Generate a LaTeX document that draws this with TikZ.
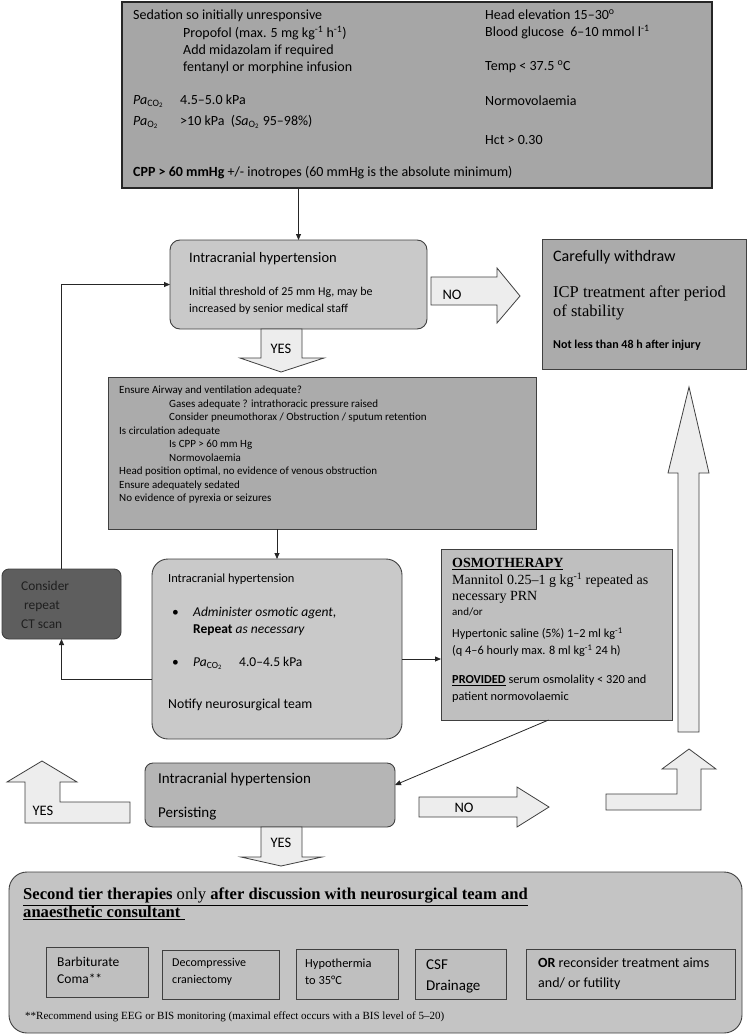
\documentclass[tikz,border=0pt]{standalone}
\usepackage{fontspec}
\setmainfont{Carlito}
\newfontfamily\timesfont{Liberation Serif}
\usetikzlibrary{arrows.meta}
\newcommand{\fsz}[2]{\fontsize{#1}{#2}\selectfont}
\newcommand{\PaCO}{\textit{Pa}\textsubscript{CO\textsubscript{2}}}

\begin{document}
\begin{tikzpicture}[x=1pt, y=-1pt,
  box/.style={draw=black!75, line width=0.9pt, anchor=north west, inner sep=0pt, outer sep=0pt},
  txt/.style={anchor=west, inner sep=0pt, align=left},
  toptxt/.style={txt, font=\fsz{14}{17}},
  conn/.style={-{Triangle[length=6pt,width=5pt]}, line width=0.8pt, black!85},
  blockarrow/.style={draw=black!75, line width=0.8pt, fill=black!7, line join=miter},
  arrowlbl/.style={inner sep=0pt, font=\fsz{14.5}{17}}]

  \fill[white] (0,0) rectangle (750,1035);
  \useasboundingbox (0,0) rectangle (750,1035);

  %% boxes
  \node[box, fill=black!35, draw=black!85, line width=1.3pt, minimum width=590pt, minimum height=186pt] (topbox) at (122,2) {};
  \node[box, fill=black!21, rounded corners=10pt, minimum width=257pt, minimum height=89pt] (ih1) at (170,240) {};
  \node[box, fill=black!33, minimum width=204pt, minimum height=130pt] (withdraw) at (542,239) {};
  \node[box, fill=black!33, minimum width=428pt, minimum height=152pt] (ensure) at (108,377) {};
  \node[box, fill=black!21, rounded corners=16pt, minimum width=250pt, minimum height=180pt] (ih2) at (152,559) {};
  \node[box, fill=black!63, rounded corners=7pt, minimum width=119pt, minimum height=70pt] (ctscan) at (2,569) {};
  \node[box, fill=black!25, minimum width=231pt, minimum height=171pt] (osmo) at (441,549) {};
  \node[box, fill=black!29, rounded corners=8pt, minimum width=250pt, minimum height=64pt] (ih3) at (145,763) {};
  \node[box, fill=black!23, rounded corners=18pt, minimum width=733pt, minimum height=161pt] (tier2) at (9,872) {};

  \node[box, fill=black!25, minimum width=102pt, minimum height=50pt] (barb) at (46,947) {};
  \node[box, fill=black!25, minimum width=117pt, minimum height=49pt] (decomp) at (162,950) {};
  \node[box, fill=black!25, minimum width=102pt, minimum height=50pt] (hypo) at (296,949) {};
  \node[box, fill=black!25, minimum width=91pt, minimum height=50pt] (csf) at (415,949) {};
  \node[box, fill=black!25, minimum width=209pt, minimum height=50pt] (futility) at (526,949) {};

  %% top box
  \node[toptxt] (sedation) at (133,16) {Sedation so initially unresponsive};
  \node[toptxt] (drugs) at (183,50) {Propofol (max. 5 mg kg\textsuperscript{-1} h\textsuperscript{-1})\\Add midazolam if required\\fentanyl or morphine infusion};
  \node[toptxt] (paco) at (133,101) {\makebox[47pt][l]{\PaCO}4.5–5.0 kPa};
  \node[toptxt] (pao) at (133,122) {\makebox[47pt][l]{\textit{Pa}\textsubscript{O\textsubscript{2}}}>10 kPa\ \ (\textit{Sa}\textsubscript{O\textsubscript{2}} 95–98\%)};
  \node[toptxt] (cpp) at (133,173) {\textbf{CPP > 60 mmHg} +/- inotropes (60 mmHg is the absolute minimum)};
  \node[toptxt] (headelev) at (485,24.5) {Head elevation 15–30\textsuperscript{o}\\Blood glucose\ \ 6–10 mmol l\textsuperscript{-1}};
  \node[toptxt] (temp) at (485,67) {Temp < 37.5 \textsuperscript{o}C};
  \node[toptxt] (normo) at (485,101) {Normovolaemia};
  \node[toptxt] (hct) at (485,140) {Hct > 0.30};

  %% first check
  \node[txt, font=\fsz{14.5}{17}] (ih1title) at (189,259) {Intracranial hypertension};
  \node[txt, font=\fsz{12}{17}] (ih1text) at (189,300.5) {Initial threshold of 25 mm Hg, may be\\increased by senior medical staff};

  \node[txt, font=\fsz{16}{19}] (withdrawtitle) at (553,257) {Carefully withdraw};
  \node[txt, font=\timesfont\fsz{16.5}{19}] (withdrawtext) at (553,302.5) {ICP treatment after period\\of stability};
  \node[txt, font=\bfseries\fsz{12}{15}] (withdrawnote) at (553,345) {Not less than 48 h after injury};

  %% checklist
  \node[txt, font=\fsz{11}{13.5}] (checks) at (119,445) {Ensure Airway and ventilation adequate?\\
    \hspace*{50pt}Gases adequate ? intrathoracic pressure raised\\
    \hspace*{50pt}Consider pneumothorax / Obstruction / sputum retention\\
    Is circulation adequate\\
    \hspace*{50pt}Is CPP > 60 mm Hg\\
    \hspace*{50pt}Normovolaemia\\
    Head position optimal, no evidence of venous obstruction\\
    Ensure adequately sedated\\
    No evidence of pyrexia or seizures};

  %% second check
  \node[txt, font=\fsz{12.4}{15}] (ih2title) at (168,579) {Intracranial hypertension};
  \node[txt, font=\fsz{13.5}{17}] (bulletone) at (172,613) {•};
  \node[txt, font=\fsz{13.5}{17}] (osmagent) at (193,621.5) {\textit{Administer osmotic agent,}\\\textbf{Repeat} \textit{as necessary}};
  \node[txt, font=\fsz{13.5}{17}] (bullettwo) at (172,663) {•};
  \node[txt, font=\fsz{13.5}{17}] (paco2) at (193,663) {\makebox[46pt][l]{\PaCO}4.0–4.5 kPa};
  \node[txt, font=\fsz{13.7}{17}] (notify) at (168,705) {Notify neurosurgical team};

  \node[txt, font=\fsz{13.4}{19}, text=black!88] (cttext) at (21,605) {Consider\\\hspace*{3pt}repeat\\CT scan};

  %% osmotherapy
  \node[txt, font=\timesfont\bfseries\fsz{14}{16}] (osmotitle) at (452,564) {\underline{OSMOTHERAPY}};
  \node[txt, font=\timesfont\fsz{14}{16}] (mannitol) at (452,588) {Mannitol 0.25–1 g kg\textsuperscript{-1} repeated as\\necessary PRN};
  \node[txt, font=\fsz{11}{14}] (andor) at (452,612) {and/or};
  \node[txt, font=\fsz{12.3}{17}] (saline) at (452,642.5) {Hypertonic saline (5\%) 1–2 ml kg\textsuperscript{-1}\\(q 4–6 hourly max. 8 ml kg\textsuperscript{-1} 24 h)};
  \node[txt, font=\fsz{12.3}{17}] (provided) at (452,688.5) {\underline{\textbf{PROVIDED}} serum osmolality < 320 and\\patient normovolaemic};

  %% third check
  \node[txt, font=\fsz{15}{18}] (ih3title) at (158,779) {Intracranial hypertension};
  \node[txt, font=\fsz{15}{18}] (ih3text) at (158,814) {Persisting};

  %% second tier
  \node[txt, font=\timesfont\fsz{16.6}{18}] (tiertitle) at (23,904) {\underline{\textbf{Second tier therapies} only \textbf{after discussion with neurosurgical team and}}\\\underline{\textbf{anaesthetic consultant}\ }};
  \node[txt, font=\fsz{13.5}{17}] (barbtext) at (57,970.5) {Barbiturate\\Coma**};
  \node[txt, font=\fsz{12}{17}] (decomptext) at (172,971.5) {Decompressive\\craniectomy};
  \node[txt, font=\fsz{12.4}{17}] (hypotext) at (305,971.5) {Hypothermia\\to 35°C};
  \node[txt, font=\fsz{15}{21}] (csftext) at (426,976.5) {CSF\\Drainage};
  \node[txt, font=\fsz{14}{20}] (futilitytext) at (538,974) {\textbf{OR} reconsider treatment aims\\and/ or futility};
  \node[txt, font=\timesfont\fsz{11}{13}] (bisnote) at (25,1017) {**Recommend using EEG or BIS monitoring (maximal effect occurs with a BIS level of 5–20)};

  %% connectors
  \draw[conn] (topbox.south -| ih1.north) -- (ih1.north);
  \draw[conn] (ensure.south -| ih2.north) -- (ih2.north);
  \draw[conn] ([yshift=-10pt]ih2.east) -- ([yshift=-10pt]ih2.east -| osmo.west);
  \draw[conn] ([yshift=-30pt]ih2.west) -| (ctscan.south);
  \draw[conn] (ctscan.north) |- (ih1.west);
  \draw[conn] ([xshift=-8pt]osmo.south) -- ([yshift=10pt]ih3.east);

  %% block arrows
  \draw[blockarrow] (431,277) -- (497,277) -- (497,268) -- (520,296) -- (497,323) -- (497,305) -- (431,305) -- cycle;
  \node[arrowlbl] (noone) at (452,295) {NO};

  \draw[blockarrow] (261,329) -- (302,329) -- (302,358) -- (324,358) -- (281,372) -- (240,358) -- (261,358) -- cycle;
  \node[arrowlbl] (yesone) at (281,349) {YES};

  \draw[blockarrow] (678,732) -- (678,473) -- (668,473) -- (689,387) -- (709,473) -- (699,473) -- (699,732) -- cycle;

  \draw[blockarrow] (606,794) -- (677,794) -- (677,769) -- (662,769) -- (689,749) -- (716,769) -- (701,769) -- (701,810) -- (606,810) -- cycle;

  \draw[blockarrow] (419,797) -- (517,797) -- (517,787) -- (549,807) -- (517,827) -- (517,817) -- (419,817) -- cycle;
  \node[arrowlbl] (notwo) at (464,808) {NO};

  \draw[blockarrow] (130,802) -- (60,802) -- (60,782) -- (77,782) -- (42,761) -- (7,782) -- (25,782) -- (25,823) -- (130,823) -- cycle;
  \node[arrowlbl] (yestwo) at (43,811) {YES};

  \draw[blockarrow] (261,827) -- (302,827) -- (302,857) -- (322,857) -- (281,866) -- (241,857) -- (261,857) -- cycle;
  \node[arrowlbl] (yesthree) at (281,843) {YES};

\end{tikzpicture}
\end{document}
